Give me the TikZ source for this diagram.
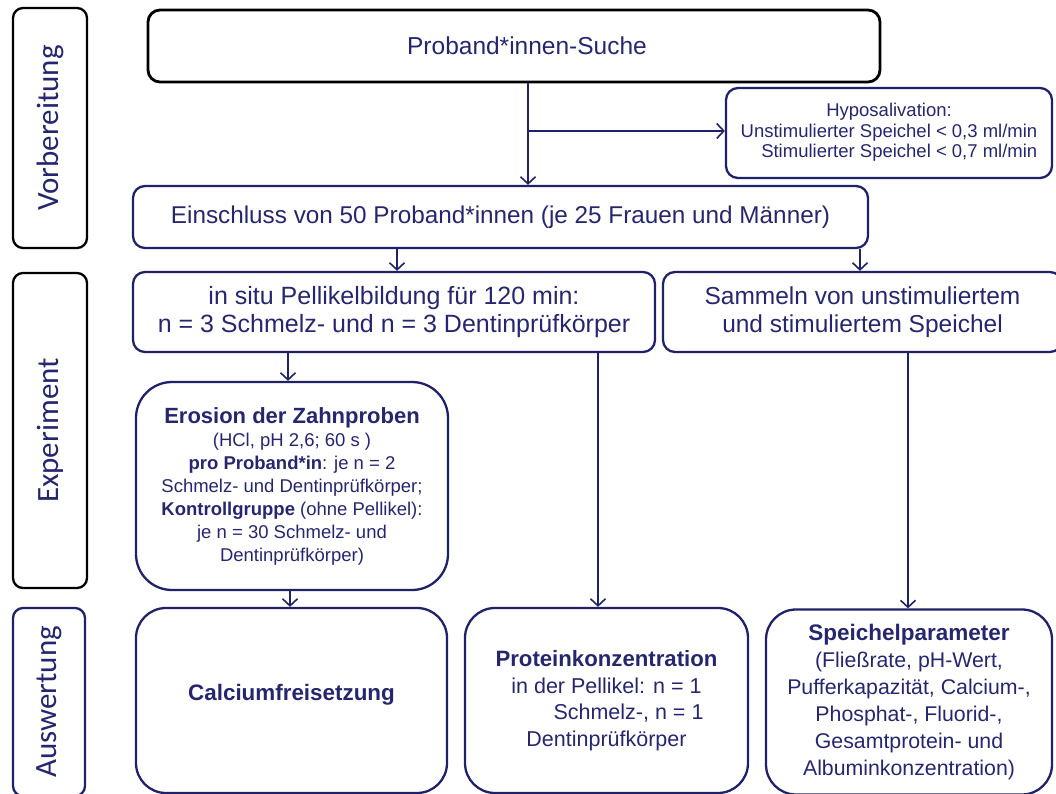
\documentclass[tikz,border=0pt]{standalone}
\usepackage{fontspec}
\setmainfont{Liberation Sans}
\newfontfamily\phasefont{Carlito}
\usetikzlibrary{arrows.meta}
\definecolor{navy}{RGB}{38,38,110}
\definecolor{navyline}{RGB}{32,34,104}
\tikzset{
	box/.style={draw=navyline, line width=2.3pt, rounded corners=12pt, text=navy, align=center, inner sep=0pt},
	phase/.style={draw=black, line width=2.3pt, rounded corners=10pt, text=navy, rotate=90, inner sep=0pt,
		font=\phasefont\fontsize{31}{33}\selectfont},
	flow/.style={navyline, line width=1.6pt, ->},
}
\newcommand{\fs}[2]{\fontsize{#1}{#2}\selectfont}
\begin{document}
\begin{tikzpicture}[x=1pt,y=-1pt,line join=round,>={Straight Barb[length=7pt,width=15pt]}]
	\useasboundingbox (0,0) rectangle (1056,794);
	% phases
	\node[phase, minimum width=240pt, minimum height=74pt] (vorb) at (50,128) {Vorbereitung};
	\node[phase, minimum width=315pt, minimum height=74pt] (exp) at (50,430.5) {Experiment};
	\node[phase, draw=navyline, minimum width=188pt, minimum height=72pt] (ausw) at (49,702) {Auswertung};
	% boxes
	\node[box, draw=black, line width=2.8pt, minimum width=732pt, minimum height=72pt, font=\fs{24.5}{28}] (suche) at (514,46) {\hspace*{26pt}Proband*innen-Suche};
	\node[box, minimum width=326pt, minimum height=90pt, font=\fs{18.5}{20.5}] (hypo) at (889,133)
		{\begin{tabular}{@{}r@{}}\multicolumn{1}{@{}c@{}}{Hyposalivation:}\\ Unstimulierter Speichel < 0,3 ml/min\\ Stimulierter Speichel < 0,7 ml/min\end{tabular}};
	\node[box, minimum width=735pt, minimum height=62pt, font=\fs{24.3}{28}] (einschluss) at (500.5,217)
		{Einschluss von 50 Proband*innen (je 25 Frauen und Männer)};
	\node[box, minimum width=522pt, minimum height=80pt, font=\fs{25}{27.5}] (pellikel) at (394,312)
		{in situ Pellikelbildung für 120 min:\\ n = 3 Schmelz- und n = 3 Dentinprüfkörper};
	\node[box, minimum width=399pt, minimum height=80pt, font=\fs{24.5}{27.5}] (sammeln) at (862.5,312)
		{Sammeln von unstimuliertem\\ und stimuliertem Speichel};
	\node[box, rounded corners=36pt, minimum width=312pt, minimum height=208pt, font=\fs{18.5}{23}] (erosion) at (292,486)
		{{\fs{22}{23}\bfseries Erosion der Zahnproben}\\ (HCl, pH 2,6; 60 s )\\ \textbf{pro Proband*in}: je n = 2\\
		 Schmelz- und Dentinprüfkörper;\\ \textbf{Kontrollgruppe} (ohne Pellikel):\\ je n = 30 Schmelz- und\\ Dentinprüfkörper)};
	\node[box, rounded corners=30pt, minimum width=311pt, minimum height=185pt, font=\fs{22.4}{25}\bfseries] (calcium) at (291.5,700.5)
		{\raisebox{16pt}{Calciumfreisetzung}};
	\node[box, rounded corners=30pt, minimum width=283pt, minimum height=185pt, font=\fs{21.5}{26.5}] (protein) at (606.5,700.5)
		{{\fs{22.2}{26.5}\bfseries Proteinkonzentration}\\ in der Pellikel: n = 1\\ \hspace*{44pt}Schmelz-, n = 1\\ Dentinprüfkörper};
	\node[box, rounded corners=30pt, minimum width=286pt, minimum height=185pt, font=\fs{21.3}{27}] (speichel) at (909,702)
		{{\fs{22.5}{27}\bfseries Speichelparameter}\\ (Fließrate, pH-Wert,\\ Pufferkapazität, Calcium-,\\ Phosphat-, Fluorid-,\\ Gesamtprotein- und\\ Albuminkonzentration)};
	% columns of the connectors
	\path
	(528,131) coordinate(split)
	(397,0) coordinate(xa)
	(860,0) coordinate(xb)
	(288,0) coordinate(xc)
	(598,0) coordinate(xd)
	(908,0) coordinate(xe)
	(290,0) coordinate(xf)
	;
	\draw[flow] (suche.south -| split) -- (einschluss.north -| split);
	\draw[flow] (split) -- (hypo.west |- split);
	\foreach \a/\b/\c in {einschluss/pellikel/xa,einschluss/sammeln/xb,pellikel/erosion/xc,pellikel/protein/xd,sammeln/speichel/xe,erosion/calcium/xf}
	\draw[flow] (\a.south -| \c) -- (\b.north -| \c);
\end{tikzpicture}
\end{document}
